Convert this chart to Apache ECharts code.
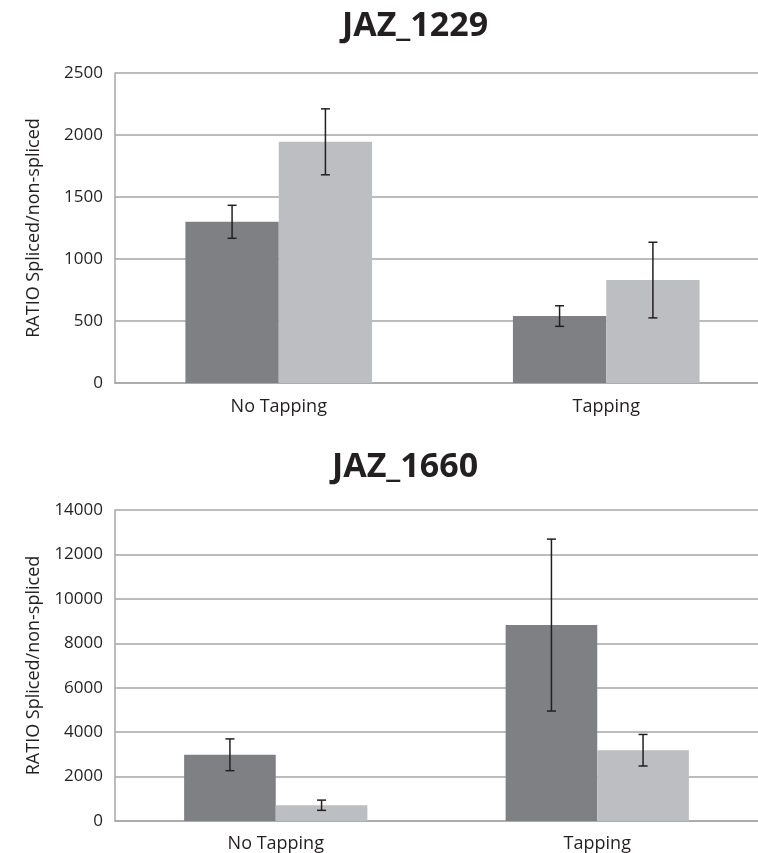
<!DOCTYPE html>
<html>
<head>
<meta charset="utf-8">
<script src="https://cdn.jsdelivr.net/npm/echarts@6/dist/echarts.min.js"></script>
<style>
html,body{margin:0;padding:0;background:#fff;}
#c{width:758px;height:853px;}
</style>
</head>
<body>
<div id="c"></div>
<script>
const categories = ['No Tapping', 'Tapping'];
const titles = ['JAZ_1229', 'JAZ_1660'];
const yAxisName = 'RATIO Spliced/non-spliced';
// chart 1 (JAZ_1229)
const c1Dark = [1300, 540];
const c1DarkErr = [133, 83];
const c1Light = [1945, 830];
const c1LightErr = [266, 305];
// chart 2 (JAZ_1660)
const c2Dark = [2980, 8820];
const c2DarkErr = [715, 3870];
const c2Light = [710, 3186];
const c2LightErr = [230, 710];
const yMax = [2500, 14000];
const yInterval = [500, 2000];

const DARK = '#7f8084';
const LIGHT = '#bdbec1';
const TXT = '#231f20';
const GRID = '#a6a6a6';
const FONT = 'Open Sans';

const chart = echarts.init(document.getElementById('c'));

function errSeries(idx, vals, errs, side) {
  return {
    type: 'custom',
    xAxisIndex: idx, yAxisIndex: idx,
    z: 10,
    data: vals.map((v, i) => [i, v, errs[i]]),
    renderItem: function (params, api) {
      const i = api.value(0), v = api.value(1), e = api.value(2);
      const catW = api.size([1, 0])[0];
      const off = side * catW * 0.1425;
      const top = api.coord([i, v + e]);
      const bot = api.coord([i, v - e]);
      const x = top[0] + off;
      const cap = 4.5;
      const st = { stroke: TXT, lineWidth: 1.5 };
      return {
        type: 'group',
        children: [
          { type: 'line', shape: { x1: x, y1: top[1], x2: x, y2: bot[1] }, style: st },
          { type: 'line', shape: { x1: x - cap, y1: top[1], x2: x + cap, y2: top[1] }, style: st },
          { type: 'line', shape: { x1: x - cap, y1: bot[1], x2: x + cap, y2: bot[1] }, style: st }
        ]
      };
    }
  };
}

function barSeries(idx, vals, color) {
  return {
    type: 'bar', xAxisIndex: idx, yAxisIndex: idx,
    data: vals, barGap: '0%', barCategoryGap: '43%',
    itemStyle: { color: color },
    emphasis: { disabled: true }
  };
}

const grids = [
  { left: 115, top: 73, width: 655, height: 310, outerBoundsMode: 'none', containLabel: false },
  { left: 115, top: 510, width: 643, height: 311, outerBoundsMode: 'none', containLabel: false }
];

const xAxes = [0, 1].map(i => ({
  type: 'category', gridIndex: i, data: categories,
  axisTick: { show: false },
  axisLine: { show: true, lineStyle: { color: GRID, width: 1.5 } },
  axisLabel: { color: TXT, fontFamily: FONT, fontSize: 18, margin: i === 0 ? 15 : 14 }
}));

const yAxes = [0, 1].map(i => ({
  type: 'value', gridIndex: i, min: 0, max: yMax[i], interval: yInterval[i],
  name: yAxisName, nameLocation: 'middle', nameGap: 72,
  nameTextStyle: { color: TXT, fontFamily: FONT, fontSize: 18 },
  axisLine: { show: true, lineStyle: { color: GRID, width: 1.5 } },
  axisTick: { show: false },
  splitLine: { lineStyle: { color: GRID, width: 1.5 } },
  axisLabel: { color: TXT, fontFamily: FONT, fontSize: 17, margin: 12, formatter: v => String(v) }
}));

chart.setOption({
  animation: false,
  backgroundColor: '#fff',
  graphic: [
    { type: 'text', x: 415, y: 26, style: { text: titles[0], fill: TXT, font: 'bold 34px "Open Sans"', textAlign: 'center', textVerticalAlign: 'middle' } },
    { type: 'text', x: 405, y: 467, style: { text: titles[1], fill: TXT, font: 'bold 34px "Open Sans"', textAlign: 'center', textVerticalAlign: 'middle' } }
  ],
  grid: grids,
  xAxis: xAxes,
  yAxis: yAxes,
  series: [
    barSeries(0, c1Dark, DARK),
    barSeries(0, c1Light, LIGHT),
    errSeries(0, c1Dark, c1DarkErr, -1),
    errSeries(0, c1Light, c1LightErr, 1),
    barSeries(1, c2Dark, DARK),
    barSeries(1, c2Light, LIGHT),
    errSeries(1, c2Dark, c2DarkErr, -1),
    errSeries(1, c2Light, c2LightErr, 1)
  ]
});
</script>
</body>
</html>
